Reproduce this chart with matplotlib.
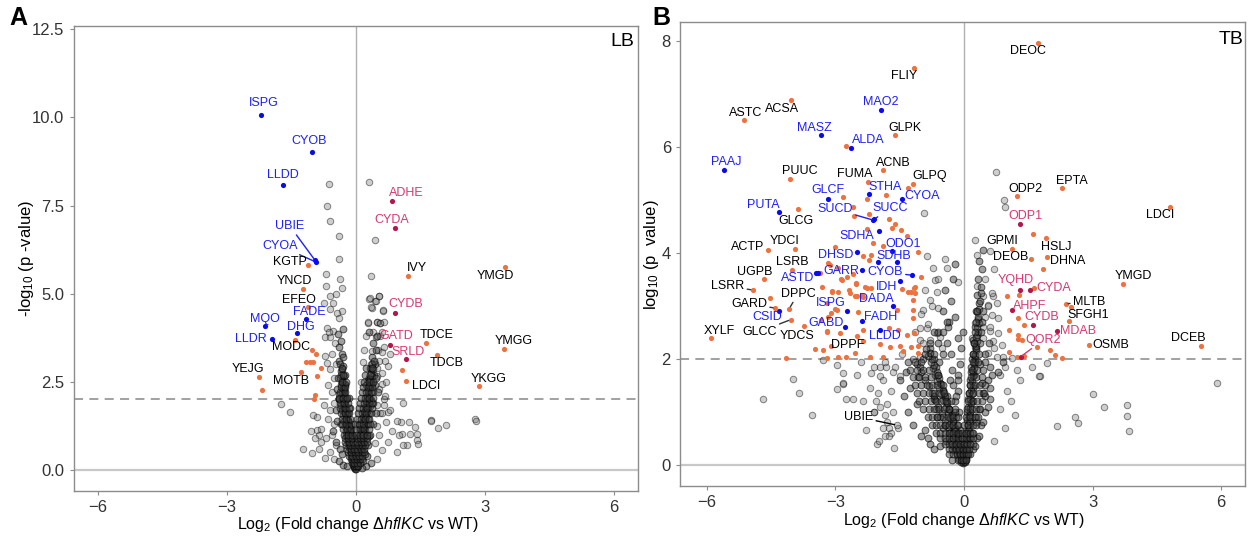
import matplotlib
matplotlib.use("Agg")
import matplotlib.pyplot as plt

plt.rcParams['font.family'] = ['Liberation Sans', 'DejaVu Sans']
plt.rcParams['mathtext.fontset'] = 'custom'
plt.rcParams['mathtext.rm'] = 'Liberation Sans'
plt.rcParams['mathtext.it'] = 'Liberation Sans:italic'

# ---------------- DATA: panel A (LB) ----------------
a_genes = ["ISPG", "CYOB", "LLDD", "UBIE", "CYOA", "KGTP", "YNCD", "EFEO", "FADE", "MQO",
           "DHG", "LLDR", "MODC", "YEJG", "MOTB", "ADHE", "CYDA", "IVY", "YMGD", "CYDB",
           "GATD", "TDCE", "SRLD", "TDCB", "YMGG", "LDCI", "YKGG"]
a_x = [-2.20, -1.02, -1.69, -0.95, -0.93, -1.10, -1.23, -1.12, -1.15, -2.12,
       -1.37, -1.96, -1.42, -2.26, -1.27, 0.84, 0.91, 1.21, 3.47, 0.91,
       0.79, 1.63, 1.18, 1.88, 3.46, 1.17, 2.87]
a_y = [10.08, 9.03, 8.07, 5.95, 5.90, 5.82, 5.14, 4.63, 4.28, 4.08,
       3.89, 3.70, 3.68, 2.63, 2.78, 7.62, 6.85, 5.50, 5.77, 4.46,
       3.54, 3.60, 3.16, 3.27, 3.43, 2.52, 2.37]
a_cat = ["b", "b", "b", "b", "b", "o", "o", "o", "b", "b",
         "b", "b", "o", "o", "o", "r", "r", "o", "o", "r",
         "r", "o", "r", "o", "o", "o", "o"]

a_orange_x = [-2.19, -1.02, -0.92, -1.15, -1.07, -0.99, -0.82, -0.90, -0.96, -0.98, 1.08]
a_orange_y = [2.27, 3.40, 3.30, 3.05, 3.05, 3.05, 2.88, 2.67, 2.13, 2.00, 2.83]

a_grey_x = [-0.63, -0.66, -0.59, -0.39, -0.39, -0.69, -0.37, -0.70, -0.32, -0.61, -0.45, -0.73,
            -0.52, -0.59, -0.33, -0.44, -0.67, -0.52, -0.72, -0.59, -0.71, -0.68,
            0.32, 0.44, 0.36, 0.32, 0.44, 0.55, 0.37, 0.64, 0.50, 0.56, 0.28,
            0.33, 0.46, 0.54, 0.36, 0.63, 0.28, 0.50, 0.57, 0.65, 0.24, 0.41, 0.46, 0.57,
            0.20, 0.37, 0.51, 0.60, 0.18, 0.35, 0.50, 0.68, 0.13, 0.32, 0.49, 0.62, 0.67,
            0.66, 0.57, 0.74, 1.06, 1.23, 1.37, 1.75, 1.92, 2.09, 2.78, 1.27, 1.43, 1.08,
            1.43, 1.19, 1.44, 1.09, 1.76, 2.80,
            -1.75, -1.54, -1.23, -1.02, -0.99, -0.90, -0.85, -0.80,
            -0.50, -0.60, -0.45, -0.70, -0.55, -0.80, -0.50, -0.65, -0.90, -0.60, -0.75, -0.50,
            -0.55, -0.65, -0.50, -0.60, -0.45, -0.55, -0.48, -0.62, -0.40, -0.85, -0.95, -1.05,
            -0.72,
            0.50, 0.60, 0.45, 0.75, 0.55, 0.85, 0.50, 0.70, 0.95, 0.60, 0.80, 0.50,
            0.65, 0.55, 0.70, 0.60, 0.75, 0.55, 0.65, 0.80, 0.60, 0.95, 1.10, 1.00]
a_grey_y = [8.10, 7.48, 7.07, 6.63, 5.97, 5.56, 5.41, 5.22, 5.15, 4.94, 4.98, 4.74,
            4.74, 4.56, 4.50, 4.45, 4.02, 3.95, 3.78, 3.76, 3.24, 3.04,
            8.17, 6.53, 5.51, 4.86, 4.80, 4.93, 4.60, 4.52, 4.20, 4.18, 4.18,
            4.87, 4.80, 4.93, 4.63, 4.55, 4.20, 4.21, 4.16, 4.21, 3.80, 3.92, 3.78, 3.80,
            3.40, 3.37, 3.40, 3.35, 3.05, 3.00, 2.90, 3.10, 2.50, 2.48, 2.65, 2.45, 2.10,
            1.85, 1.60, 1.65, 1.37, 1.37, 1.22, 1.41, 1.18, 1.28, 1.43, 1.03, 1.03, 1.01,
            0.84, 0.71, 0.73, 1.91, 1.39, 1.39,
            1.88, 1.63, 0.60, 0.49, 1.57, 1.13, 1.00, 0.80,
            0.30, 0.50, 0.70, 0.90, 1.00, 1.15, 1.30, 1.45, 1.50, 1.70, 1.85, 1.90,
            2.20, 2.40, 2.60, 2.85, 3.00, 3.30, 3.60, 3.90, 4.30, 0.60, 0.90, 1.10,
            0.35,
            0.30, 0.55, 0.75, 0.80, 1.00, 1.10, 1.25, 1.35, 1.40, 1.60, 1.70, 1.85,
            2.00, 2.30, 2.50, 2.75, 2.95, 3.10, 3.50, 3.30, 3.90, 0.50, 0.70, 1.00]

# dense "V" core (panel A)
a_core_x = [-0.02, -0.04, -0.06, -0.03, -0.08, -0.10, -0.05, -0.12, -0.08, -0.15, -0.10, -0.18,
            -0.12, -0.20, -0.14, -0.22, -0.16, -0.25, -0.18, -0.28, -0.20, -0.30, -0.22, -0.33,
            -0.24, -0.35, -0.26, -0.38, -0.27, -0.40, -0.28, -0.30, -0.25, -0.33, -0.28, -0.35,
            -0.30, -0.38, -0.32, -0.40, -0.35, -0.42, -0.30, -0.40, -0.30, -0.20, -0.07, -0.11,
            -0.15, -0.19, -0.23, -0.13, -0.17, -0.21, -0.09, -0.14, -0.06, -0.16, -0.24, -0.26,
            -0.29, -0.34, -0.36, -0.31,
            0.03, 0.05, 0.08, 0.10, 0.07, 0.13, 0.10, 0.16, 0.12, 0.19, 0.15, 0.22,
            0.17, 0.25, 0.20, 0.28, 0.22, 0.30, 0.25, 0.33, 0.27, 0.36, 0.30, 0.40,
            0.32, 0.38, 0.30, 0.42, 0.35, 0.45, 0.38, 0.48, 0.40, 0.50, 0.30, 0.35,
            0.25, 0.15, 0.06, 0.09, 0.14, 0.18, 0.21, 0.11, 0.16, 0.24, 0.27, 0.08,
            0.13, 0.19, 0.23, 0.29, 0.34, 0.26, 0.31,
            -0.01, -0.03, -0.05, -0.02, -0.07, -0.04, -0.09, -0.06, -0.11, -0.08, -0.13, -0.10,
            -0.15, -0.12, -0.17, -0.14, -0.19, -0.16, -0.21, -0.18, -0.23, -0.20, -0.25, -0.22,
            -0.27, -0.24, -0.29, -0.26, -0.31, -0.28, -0.33, -0.30, -0.35, -0.32, -0.37, -0.34,
            -0.27, -0.23, -0.19, -0.15, -0.11, -0.31, -0.36, -0.41, -0.44, -0.39, -0.47, -0.43,
            -0.52, -0.46,
            0.01, 0.02, 0.04, 0.06, 0.03, 0.08, 0.05, 0.10, 0.07, 0.12, 0.09, 0.14,
            0.11, 0.16, 0.13, 0.18, 0.15, 0.20, 0.17, 0.22, 0.19, 0.24, 0.21, 0.26,
            0.23, 0.28, 0.25, 0.30, 0.27, 0.32, 0.29, 0.34, 0.31, 0.36, 0.33, 0.38,
            0.35, 0.40, 0.37, 0.42, 0.44, 0.47, 0.52, 0.41, 0.46, 0.39, 0.34, 0.28,
            0.22, 0.16,
            -0.05, 0.00, 0.05, -0.09, -0.03, 0.03, 0.09, -0.12, -0.05, 0.02, 0.10, 0.15,
            -0.15, -0.08, 0.00, 0.07, 0.14, -0.18, -0.10, -0.02, 0.06, 0.15, 0.20,
            -0.20, -0.12, -0.04, 0.04, 0.12, 0.20, -0.22, -0.14, -0.05, 0.05, 0.14, 0.22,
            -0.24, -0.15, -0.06, 0.03, 0.12, 0.20, 0.26, -0.26, -0.17, -0.08, 0.02, 0.10,
            0.18, 0.27, -0.27, -0.18, -0.09, 0.00, 0.09, 0.18, 0.27, -0.30, -0.20, -0.10,
            0.00, 0.10, 0.20, 0.30, -0.32, -0.22, -0.12, -0.02, 0.08, 0.18, 0.28, 0.33,
            -0.33, -0.23, -0.13, 0.03, 0.12, 0.22, 0.32, -0.35, -0.25, -0.15, 0.05, 0.15,
            0.25, 0.35, -0.36, -0.26, -0.16, 0.07, 0.17, 0.27, 0.37, -0.37, -0.28, -0.18,
            0.10, 0.20, 0.30, 0.38, -0.38, -0.29, -0.20, 0.12, 0.22, 0.32, 0.40,
            -0.36, -0.26, 0.15, 0.25, 0.35, -0.34, -0.24, 0.18, 0.28, 0.38, -0.32, -0.22,
            0.20, 0.30, 0.40, -0.30, 0.22, 0.34, -0.33, 0.25, 0.37]
a_core_y = [0.05, 0.12, 0.20, 0.25, 0.30, 0.40, 0.45, 0.50, 0.60, 0.65, 0.75, 0.80,
            0.90, 0.95, 1.05, 1.10, 1.20, 1.25, 1.35, 1.40, 1.50, 1.55, 1.65, 1.70,
            1.80, 1.85, 1.95, 2.00, 2.10, 2.15, 2.25, 2.35, 2.45, 2.55, 2.65, 2.80,
            2.95, 3.10, 3.30, 3.50, 3.65, 3.85, 4.00, 0.25, 0.15, 0.10, 0.35, 0.55,
            0.70, 0.85, 1.00, 1.15, 1.40, 1.60, 0.80, 1.75, 0.95, 2.05, 2.40, 2.70,
            3.20, 1.30, 0.60, 0.45,
            0.08, 0.18, 0.28, 0.38, 0.50, 0.55, 0.68, 0.75, 0.85, 0.92, 1.02, 1.10,
            1.20, 1.28, 1.40, 1.45, 1.55, 1.62, 1.72, 1.80, 1.90, 1.98, 2.10, 2.20,
            2.30, 2.45, 2.60, 2.70, 2.85, 3.00, 3.20, 3.40, 3.60, 3.80, 3.90, 0.20,
            0.12, 0.05, 0.30, 0.45, 0.62, 0.80, 0.98, 1.30, 1.50, 1.75, 2.05, 0.65,
            1.15, 1.65, 2.40, 2.55, 2.90, 0.40, 0.95,
            0.02, 0.08, 0.15, 0.18, 0.22, 0.33, 0.35, 0.48, 0.52, 0.62, 0.70, 0.82,
            0.88, 0.97, 1.02, 1.12, 1.18, 1.28, 1.32, 1.42, 1.48, 1.58, 1.60, 1.72,
            1.75, 1.88, 1.90, 2.02, 2.05, 2.18, 2.20, 2.32, 2.40, 2.50, 2.60, 2.70,
            2.30, 2.00, 1.60, 1.25, 0.90, 2.85, 3.00, 2.60, 2.30, 2.00, 1.70, 1.40,
            1.10, 0.80,
            0.02, 0.10, 0.14, 0.24, 0.32, 0.36, 0.44, 0.50, 0.58, 0.64, 0.72, 0.78,
            0.88, 0.95, 1.05, 1.08, 1.18, 1.22, 1.34, 1.38, 1.48, 1.52, 1.65, 1.68,
            1.78, 1.82, 1.95, 2.00, 2.08, 2.15, 2.25, 2.35, 2.42, 2.50, 2.58, 2.65,
            2.75, 2.85, 3.00, 3.10, 2.40, 2.60, 2.20, 1.90, 1.60, 1.30, 1.00, 0.70,
            0.45, 0.25,
            0.10, 0.10, 0.10, 0.20, 0.20, 0.20, 0.20, 0.30, 0.30, 0.30, 0.30, 0.30,
            0.40, 0.40, 0.40, 0.40, 0.40, 0.50, 0.50, 0.50, 0.50, 0.50, 0.50,
            0.60, 0.60, 0.60, 0.60, 0.60, 0.60, 0.70, 0.70, 0.70, 0.70, 0.70, 0.70,
            0.80, 0.80, 0.80, 0.80, 0.80, 0.80, 0.80, 0.90, 0.90, 0.90, 0.90, 0.90,
            0.90, 0.90, 1.00, 1.00, 1.00, 1.00, 1.00, 1.00, 1.00, 1.15, 1.15, 1.15,
            1.15, 1.15, 1.15, 1.15, 1.30, 1.30, 1.30, 1.30, 1.30, 1.30, 1.30, 1.30,
            1.45, 1.45, 1.45, 1.45, 1.45, 1.45, 1.45, 1.60, 1.60, 1.60, 1.60, 1.60,
            1.60, 1.60, 1.75, 1.75, 1.75, 1.75, 1.75, 1.75, 1.75, 1.90, 1.90, 1.90,
            1.90, 1.90, 1.90, 1.90, 2.05, 2.05, 2.05, 2.05, 2.05, 2.05, 2.05,
            2.20, 2.20, 2.20, 2.20, 2.20, 2.35, 2.35, 2.35, 2.35, 2.35, 2.50, 2.50,
            2.50, 2.50, 2.50, 2.70, 2.70, 2.70, 2.90, 2.90, 2.90]

# ---------------- DATA: panel B (TB) ----------------
b_genes = ["ACSA", "ASTC", "MASZ", "PAAJ", "PUUC", "GLCF", "PUTA", "GLCG", "FLIY", "MAO2",
           "GLPK", "ALDA", "ACNB", "FUMA", "GLPQ", "STHA", "CYOA", "SUCD", "SUCC", "SDHA",
           "ODO1", "DHSD", "SDHB", "GARR", "ASTD", "CYOB", "IDH", "ISPG", "DADA", "CSID",
           "GARD", "DPPC", "FADH", "GABD", "LLDD", "DPPF", "ACTP", "YDCI", "LSRB", "UGPB",
           "LSRR", "GLCC", "YDCS", "XYLF", "UBIE", "DEOC", "EPTA", "ODP2", "ODP1", "GPMI",
           "HSLJ", "DEOB", "DHNA", "YQHD", "CYDA", "AHPF", "MLTB", "SFGH1", "CYDB", "MDAB",
           "QOR2", "OSMB", "LDCI", "YMGD", "DCEB"]
b_x = [-4.04, -5.13, -3.35, -5.61, -4.06, -3.18, -4.33, -3.87, -1.17, -1.94,
       -1.60, -2.63, -1.89, -2.25, -1.19, -2.22, -1.44, -2.12, -2.09, -1.98,
       -1.67, -2.50, -1.56, -2.39, -3.46, -1.21, -1.49, -2.74, -1.65, -4.32,
       -4.41, -4.08, -2.39, -2.78, -1.95, -2.50, -4.58, -3.95, -4.02, -4.68,
       -4.93, -4.05, -3.73, -5.91, -1.57, 1.72, 2.28, 1.23, 1.30, 1.13,
       1.91, 1.57, 1.93, 1.30, 1.54, 1.12, 2.38, 2.45, 1.62, 2.17,
       1.32, 2.91, 4.80, 3.71, 5.53]
b_y = [6.89, 6.51, 6.22, 5.57, 5.39, 5.02, 4.77, 4.83, 7.50, 6.70,
       6.23, 5.98, 5.57, 5.33, 5.30, 5.11, 5.02, 4.62, 4.64, 4.41,
       4.03, 4.01, 3.82, 3.67, 3.62, 3.58, 3.48, 2.91, 2.99, 2.91,
       2.96, 2.95, 2.72, 2.61, 2.55, 2.43, 4.06, 4.07, 3.67, 3.50,
       3.30, 2.74, 2.62, 2.39, 0.75, 7.97, 5.23, 5.08, 4.54, 4.08,
       4.28, 3.89, 3.92, 3.31, 3.30, 2.93, 3.04, 2.71, 2.64, 2.52,
       2.04, 2.27, 4.87, 3.42, 2.25]
b_cat = ["o", "o", "b", "b", "o", "b", "b", "o", "o", "b",
         "o", "b", "o", "o", "o", "b", "b", "b", "b", "b",
         "b", "b", "b", "b", "b", "b", "b", "b", "b", "b",
         "o", "o", "b", "b", "b", "o", "o", "o", "o", "o",
         "o", "o", "o", "o", "g", "o", "o", "o", "r", "o",
         "o", "o", "o", "r", "r", "r", "o", "o", "r", "r",
         "r", "o", "o", "o", "o"]

b_blue_x = [-2.01, -3.42]
b_blue_y = [3.82, 3.63]

b_orange_x = [-2.76, -2.83, -2.27, -1.83, -1.31, -2.58, -2.21, -2.56, -1.74, -1.60, -1.69, -2.27,
              -2.13, -1.88, -1.46, -1.33, -1.07, -3.01, -2.35, -2.17, -2.22, -3.13, -2.93, -3.36,
              -2.86, -2.74, -2.58, -1.01, -3.32, -3.08, -2.93, -2.69, -2.51, -2.31, -2.18, -1.44,
              -1.24, -1.16, -1.15, -2.67, -2.50, -2.39, -1.57, -4.54, -3.17, -2.84, -2.52, -2.27,
              -3.07, -2.54, -2.36, -3.20, -2.97, -2.47, -3.17, -3.20, -2.90, -2.35, -3.19, -3.10,
              -3.48, -3.30, -3.19, -4.15, -3.10, -3.01, -3.33, -2.93, -2.76, -2.54, -2.19, -1.90,
              -2.35, -1.96, -1.73, -1.49, -1.42, -1.24, -1.07, -1.07, -1.34, -1.16, -1.74, -1.53,
              -1.18, -1.18, -1.18, -1.30, -1.14,
              1.60, 1.84, 1.01, 1.28, 1.63, 1.25, 1.39, 1.04, 1.27, 1.27, 1.35, 1.71,
              2.01, 2.13, 2.28, 1.04, 1.23, 1.40, 2.49]
b_orange_y = [6.02, 5.06, 5.02, 5.09, 5.23, 4.87, 4.74, 4.70, 4.65, 4.55, 4.48, 4.45,
              4.18, 4.14, 4.43, 4.32, 4.01, 4.12, 3.95, 3.97, 3.87, 3.77, 3.71, 3.62,
              3.51, 3.55, 3.60, 3.55, 3.36, 3.29, 3.26, 3.30, 3.42, 3.35, 3.34, 3.32,
              3.26, 3.33, 3.24, 3.24, 3.18, 3.21, 2.92, 3.15, 3.81, 3.49, 3.43, 3.33,
              3.27, 3.19, 3.16, 3.05, 2.92, 2.89, 2.80, 2.52, 2.48, 2.55, 2.50, 2.25,
              2.18, 2.17, 2.01, 2.01, 2.87, 2.94, 2.74, 2.04, 2.04, 2.12, 2.04, 2.04,
              2.33, 2.28, 2.23, 2.25, 2.14, 2.23, 2.25, 2.12, 2.45, 2.48, 2.58, 2.55,
              2.77, 2.92, 3.11, 3.27, 3.35,
              4.35, 3.70, 3.19, 3.21, 3.33, 2.77, 2.64, 2.55, 2.45, 2.37, 2.35, 2.23,
              2.17, 2.08, 2.01, 2.13, 2.03, 2.06, 2.98]

b_grey_x = [-0.93, -0.87, -0.72, -0.44, -0.40, -0.68, -0.13, -0.64, -0.79, -0.60, -0.95, -1.03,
            -0.87, -0.64, -0.56, -0.79, -1.03, -0.52, -0.79, -1.03,
            -4.70, -3.85, -3.56, -3.99, -2.96, -2.83, -2.76, -2.58, -2.29, -2.03, -1.98, -1.63,
            -2.10, -2.05, -1.95, -1.85, -1.80, -1.75, -1.70, -1.85, -1.90,
            -3.28, -2.97, -2.82, -2.82, -2.16, -1.96, -1.81, -1.96, -1.65, -1.49,
            0.75, 0.95, 0.94, 0.25, 0.31, 0.61, 0.71, 0.30, 0.45, 0.68, 0.76, 0.57, 0.30, 0.65,
            0.80, 0.26, 0.45, 0.61, 0.80, 0.18, 0.68, 0.88, 0.26, 0.57, 0.76, 0.92, 1.11, 0.96,
            1.23, 1.58, 1.77, 0.84, 3.00, 3.28, 3.80, 3.80, 3.86, 2.59, 2.65, 2.18, 1.93, 1.74,
            5.90,
            -1.60, -1.20, -1.45, -0.95, -1.15, -0.85, -1.00, -0.75, -0.90, -0.60, -1.70, -1.80,
            -1.90, -2.00, -1.65, -1.55, -1.75, -2.10, -2.20, -2.35, -2.50, -2.10, -1.85, -2.40,
            0.70, 0.45, 0.60, 0.50, 0.55, 0.65, 0.50, 1.00, 1.10, 0.85, 1.20, 0.95, 1.30, 0.70]
b_grey_y = [4.75, 3.94, 3.71, 3.88, 3.71, 3.49, 3.46, 3.27, 3.11, 2.96, 2.92, 2.58,
            2.58, 2.48, 2.42, 2.36, 2.36, 2.20, 2.11, 2.04,
            1.24, 1.35, 0.95, 1.62, 1.44, 1.53, 1.25, 1.25, 0.66, 0.40, 0.45, 0.31,
            1.00, 1.20, 1.10, 0.95, 0.80, 0.70, 0.60, 0.55, 0.70,
            1.98, 1.89, 1.73, 1.54, 1.73, 1.85, 1.85, 1.67, 1.75, 1.67,
            5.52, 4.87, 5.00, 4.25, 3.97, 4.04, 3.69, 3.38, 3.18, 3.19, 3.06, 3.02, 2.89, 2.83,
            2.77, 2.67, 2.61, 2.52, 2.48, 2.39, 2.33, 2.26, 2.23, 2.11, 2.04, 2.04, 2.01, 1.85,
            1.79, 1.85, 1.67, 1.70, 1.34, 1.10, 1.13, 0.93, 0.64, 0.91, 0.79, 0.74, 1.92, 1.68,
            1.55,
            1.85, 2.00, 2.10, 2.30, 2.50, 2.65, 2.85, 3.00, 3.30, 3.50, 1.40, 1.15,
            1.60, 1.35, 1.00, 0.70, 0.55, 1.00, 1.45, 1.20, 1.70, 1.85, 1.95, 1.95,
            2.20, 2.40, 2.60, 2.80, 3.00, 3.25, 3.50, 1.40, 1.20, 1.05, 0.95, 0.70, 1.60, 0.45]

# dense "V" core (panel B)
b_core_x = [-0.03, -0.06, -0.10, -0.05, -0.15, -0.20, -0.10, -0.25, -0.15, -0.32, -0.20, -0.38,
            -0.25, -0.45, -0.30, -0.52, -0.35, -0.60, -0.40, -0.68, -0.45, -0.75, -0.50, -0.82,
            -0.55, -0.90, -0.60, -1.00, -0.65, -1.10, -0.70, -0.50, -0.80, -0.40, -0.60, -0.35,
            -0.50, -0.30, -0.45, -0.25, -0.20, -0.12, -0.18, -0.22, -0.25, -0.28, -0.30, -0.15,
            -0.20, -0.80, -1.00, -0.70, -1.20, -0.90, -1.30, -1.10, -1.40, -1.25, -1.50, -1.35,
            -0.08, -0.12, -0.16, -0.07, -0.11, -0.14, -0.04, -0.09, -0.13, -0.35, -0.42, -0.55,
            -0.62, -0.48, -0.70, -0.33, -0.27, -0.38, -0.58, -0.85,
            0.03, 0.06, 0.04, 0.09, 0.06, 0.12, 0.08, 0.15, 0.10, 0.18, 0.12, 0.20,
            0.15, 0.23, 0.17, 0.26, 0.20, 0.28, 0.22, 0.30, 0.25, 0.33, 0.27, 0.36,
            0.30, 0.40, 0.33, 0.42, 0.35, 0.45, 0.20, 0.30, 0.40, 0.50, 0.35, 0.60,
            0.45, 0.80, 0.55, 0.60, 0.90,
            0.05, 0.08, 0.11, 0.14, 0.07, 0.10, 0.13, 0.16, 0.19, 0.24, 0.21, 0.27,
            -0.02, -0.05, -0.08, -0.04, -0.12, -0.09, -0.16, -0.13, -0.20, -0.17, -0.24, -0.21,
            -0.28, -0.25, -0.33, -0.29, -0.38, -0.34, -0.43, -0.39, -0.48, -0.44, -0.53, -0.49,
            -0.58, -0.54, -0.63, -0.59, -0.68, -0.64, -0.73, -0.69, -0.78, -0.74, -0.83, -0.79,
            -0.88, -0.95, -1.02, -1.08, -0.30, -0.25, -0.20, -0.16, -0.12, -0.08, -0.35, -0.45,
            -0.55, -0.65, -0.40, -0.50, -0.60, -0.70, -0.22, -0.18, -0.14, -0.10, -0.06, -0.03,
            0.02, 0.04, 0.03, 0.06, 0.05, 0.08, 0.07, 0.10, 0.09, 0.12, 0.11, 0.14,
            0.13, 0.16, 0.15, 0.18, 0.17, 0.20, 0.19, 0.22, 0.21, 0.24, 0.23, 0.26,
            0.25, 0.28, 0.27, 0.30, 0.29, 0.32, 0.31, 0.34, 0.33, 0.36, 0.38, 0.40,
            0.15, 0.25, 0.35, 0.45, 0.55, 0.50, 0.42, 0.60, 0.65, 0.38, 0.48, 0.58,
            0.28, 0.18,
            -0.15, -0.08, -0.02, 0.04, -0.25, -0.17, -0.09, -0.02, 0.05, 0.10,
            -0.35, -0.27, -0.19, -0.11, -0.03, 0.04, 0.12, -0.45, -0.36, -0.27, -0.18, -0.09,
            0.00, 0.08, 0.15, -0.55, -0.45, -0.35, -0.25, -0.15, -0.05, 0.05, 0.13, 0.20,
            -0.65, -0.55, -0.45, -0.35, -0.25, -0.15, -0.05, 0.05, 0.15, 0.22,
            -0.75, -0.65, -0.55, -0.45, -0.35, -0.25, -0.15, 0.00, 0.10, 0.20, 0.28,
            -0.85, -0.75, -0.62, -0.50, -0.38, -0.26, -0.14, 0.05, 0.15, 0.25, 0.33,
            -0.95, -0.82, -0.70, -0.58, -0.46, -0.34, -0.22, 0.08, 0.18, 0.28, 0.38,
            -1.05, -0.90, -0.78, -0.66, -0.54, -0.42, -0.30, 0.10, 0.20, 0.30, 0.42,
            -1.10, -0.95, -0.82, -0.70, -0.58, -0.46, 0.12, 0.22, 0.34, 0.46,
            -1.15, -1.00, -0.86, -0.74, -0.62, 0.14, 0.26, 0.38, 0.50,
            -1.20, -1.05, -0.90, -0.78, 0.16, 0.28, 0.42, -1.25, -1.10, -0.95, -0.82, 0.18,
            0.30, 0.45, -1.30, -1.15, -1.00, 0.20, 0.33, 0.48, -0.90, -0.70, 0.22, 0.35,
            -0.80, -0.60, 0.24, 0.38, -0.70, -0.50, 0.26, 0.40, 0.28, 0.42, -0.40, 0.30, 0.44]
b_core_y = [0.05, 0.12, 0.20, 0.25, 0.30, 0.38, 0.42, 0.48, 0.55, 0.60, 0.68, 0.72,
            0.80, 0.85, 0.92, 0.98, 1.05, 1.10, 1.18, 1.22, 1.30, 1.35, 1.42, 1.48,
            1.55, 1.60, 1.70, 1.75, 1.85, 1.90, 2.00, 2.10, 2.20, 2.30, 2.50, 2.70,
            2.90, 3.10, 3.30, 3.50, 3.80, 0.60, 0.90, 1.20, 1.50, 1.80, 2.10, 2.40,
            2.80, 0.40, 0.55, 0.30, 0.75, 0.65, 1.00, 1.15, 1.30, 1.45, 1.60, 1.75,
            0.15, 0.35, 0.75, 0.50, 1.00, 1.40, 0.28, 0.65, 1.70, 0.20, 0.45, 0.35,
            0.90, 0.70, 1.25, 1.60, 0.10, 2.60, 1.95, 0.50,
            0.08, 0.20, 0.35, 0.45, 0.60, 0.70, 0.85, 0.95, 1.10, 1.20, 1.35, 1.45,
            1.60, 1.70, 1.85, 1.95, 2.10, 2.20, 2.35, 2.45, 2.60, 2.75, 2.90, 3.05,
            3.20, 3.35, 3.50, 3.70, 3.85, 4.05, 0.30, 0.50, 0.75, 1.00, 1.05, 1.25,
            1.35, 1.75, 1.60, 1.85, 1.95,
            0.15, 0.30, 0.50, 0.80, 1.00, 1.25, 1.50, 1.75, 2.00, 2.30, 0.40, 0.90,
            0.03, 0.10, 0.16, 0.22, 0.27, 0.34, 0.40, 0.46, 0.52, 0.58, 0.63, 0.70,
            0.75, 0.82, 0.88, 0.94, 0.99, 1.05, 1.10, 1.16, 1.22, 1.28, 1.33, 1.40,
            1.45, 1.52, 1.58, 1.64, 1.70, 1.76, 1.82, 1.88, 1.94, 2.00, 2.06, 2.12,
            2.18, 2.00, 1.85, 1.65, 0.45, 0.35, 0.28, 0.20, 0.12, 0.06, 0.60, 0.75,
            0.90, 1.05, 1.30, 1.50, 1.70, 1.30, 1.00, 1.30, 1.60, 1.90, 2.20, 2.50,
            0.05, 0.12, 0.25, 0.30, 0.42, 0.48, 0.58, 0.66, 0.75, 0.82, 0.92, 1.00,
            1.08, 1.16, 1.25, 1.33, 1.42, 1.50, 1.58, 1.67, 1.75, 1.83, 1.92, 2.00,
            2.08, 2.17, 2.25, 2.33, 2.42, 2.50, 2.58, 2.67, 2.80, 2.95, 3.10, 3.25,
            0.20, 0.35, 0.55, 0.80, 1.10, 1.30, 1.55, 1.45, 1.70, 1.90, 2.10, 2.30,
            0.80, 0.60,
            0.10, 0.10, 0.10, 0.10, 0.20, 0.20, 0.20, 0.20, 0.20, 0.20,
            0.30, 0.30, 0.30, 0.30, 0.30, 0.30, 0.30, 0.40, 0.40, 0.40, 0.40, 0.40,
            0.40, 0.40, 0.40, 0.50, 0.50, 0.50, 0.50, 0.50, 0.50, 0.50, 0.50, 0.50,
            0.60, 0.60, 0.60, 0.60, 0.60, 0.60, 0.60, 0.60, 0.60, 0.60,
            0.75, 0.75, 0.75, 0.75, 0.75, 0.75, 0.75, 0.75, 0.75, 0.75, 0.75,
            0.90, 0.90, 0.90, 0.90, 0.90, 0.90, 0.90, 0.90, 0.90, 0.90, 0.90,
            1.05, 1.05, 1.05, 1.05, 1.05, 1.05, 1.05, 1.05, 1.05, 1.05, 1.05,
            1.20, 1.20, 1.20, 1.20, 1.20, 1.20, 1.20, 1.20, 1.20, 1.20, 1.20,
            1.35, 1.35, 1.35, 1.35, 1.35, 1.35, 1.35, 1.35, 1.35, 1.35,
            1.50, 1.50, 1.50, 1.50, 1.50, 1.50, 1.50, 1.50, 1.50,
            1.65, 1.65, 1.65, 1.65, 1.65, 1.65, 1.65, 1.80, 1.80, 1.80, 1.80, 1.80,
            1.80, 1.80, 1.95, 1.95, 1.95, 1.95, 1.95, 1.95, 2.10, 2.10, 2.10, 2.10,
            2.30, 2.30, 2.30, 2.30, 2.50, 2.50, 2.50, 2.50, 2.70, 2.70, 2.70, 2.90, 2.90]

# ---------------- LAYOUT (label offsets in pixels, leader lines) ----------------
a_offsets = {"ISPG": (3, 12), "CYOB": (-3, 11), "LLDD": (0, 10), "UBIE": (-25, 34),
             "CYOA": (-36, 16), "KGTP": (-19, 3), "YNCD": (-9, 8), "EFEO": (-9, 7),
             "FADE": (3, 7), "MQO": (0, 7), "DHG": (4, 6), "LLDR": (-21, 0),
             "MODC": (-4, -7), "YEJG": (-11, 8), "MOTB": (-10, -9), "ADHE": (14, 8),
             "CYDA": (-3, 8), "IVY": (9, 8), "YMGD": (-9, -9), "CYDB": (11, 9),
             "GATD": (7, 9), "TDCE": (11, 8), "SRLD": (2, 7), "TDCB": (10, -8),
             "YMGG": (9, 8), "LDCI": (20, -5), "YKGG": (10, 7)}
a_lines = {"UBIE", "CYOA"}
b_offsets = {"ACSA": (-9, -9), "ASTC": (1, 7), "MASZ": (-6, 7), "PAAJ": (3, 8), "PUUC": (10, 8),
             "GLCF": (0, 9), "PUTA": (-15, 7), "GLCG": (-2, -12), "FLIY": (-10, -8),
             "MAO2": (0, 8), "GLPK": (9, 7), "ALDA": (17, 8), "ACNB": (10, 7), "FUMA": (-13, 8),
             "GLPQ": (17, 8), "STHA": (16, 7), "CYOA": (20, 3), "SUCD": (-38, 11),
             "SUCC": (16, 11), "SDHA": (-22, -5), "ODO1": (11, 7), "DHSD": (-21, -3),
             "SDHB": (-3, 6), "GARR": (-20, -1), "ASTD": (-18, -5), "CYOB": (-27, 3),
             "IDH": (-14, -6), "ISPG": (-16, 8), "DADA": (-17, 7), "CSID": (-12, -6),
             "GARD": (-26, 4), "DPPC": (9, 15), "FADH": (19, 4), "GABD": (-19, 4),
             "LLDD": (4, -6), "DPPF": (-9, -9), "ACTP": (-20, 3), "YDCI": (-10, 8),
             "LSRB": (1, 8), "UGPB": (-9, 7), "LSRR": (-25, 4), "GLCC": (-31, -12),
             "YDCS": (-7, -10), "XYLF": (9, 7), "UBIE": (-38, 8), "DEOC": (-10, -8),
             "EPTA": (10, 7), "ODP2": (9, 7), "ODP1": (6, 8), "GPMI": (-10, 8),
             "HSLJ": (10, -9), "DEOB": (-21, 2), "DHNA": (21, -4), "YQHD": (-4, 10),
             "CYDA": (24, 2), "AHPF": (18, 4), "MLTB": (23, 2), "SFGH1": (19, 6),
             "CYDB": (8, 8), "MDAB": (21, 0), "QOR2": (23, 17), "OSMB": (22, 0),
             "LDCI": (-9, -8), "YMGD": (10, 8), "DCEB": (-13, 8)}
b_lines = {"SUCD", "SUCC", "CYOB", "GARD", "DPPC", "LSRR", "GLCC", "UBIE", "MLTB", "QOR2"}

PT_COL = {"o": "#EC7240", "b": "#0A0AF0", "r": "#B3174A"}
TXT_COL = {"o": "black", "b": "#1E1EFF", "r": "#D8386E", "g": "black"}
GREY_FACE = (0.45, 0.45, 0.45, 0.35)
GREY_EDGE = (0, 0, 0, 0.45)
CORE_FACE = (0.25, 0.25, 0.25, 0.5)
CORE_EDGE = (0, 0, 0, 0.6)

fig = plt.figure(figsize=(12.5, 5.4), dpi=100)


def draw_panel(ax, genes, xs, ys, cats, offsets, lines, orange_x, orange_y, grey_x, grey_y,
               core_x, core_y, blue_x=(), blue_y=()):
    ax.axhline(0, color="#c8c8c8", lw=1.6, zorder=1)
    ax.axvline(0, color="#b0b0b0", lw=1.0, zorder=1)
    ax.axhline(2, color="#9a9a9a", lw=1.3, ls=(0, (5, 3.5)), zorder=1)
    ax.scatter(grey_x, grey_y, s=22, facecolors=GREY_FACE, edgecolors=GREY_EDGE,
               linewidths=0.7, zorder=2)
    ax.scatter(core_x, core_y, s=24, facecolors=CORE_FACE, edgecolors=CORE_EDGE,
               linewidths=0.7, zorder=2)
    ax.scatter(orange_x, orange_y, s=14, color=PT_COL["o"], linewidths=0, zorder=3)
    if len(blue_x):
        ax.scatter(blue_x, blue_y, s=14, color=PT_COL["b"], linewidths=0, zorder=3)
    for g, x, y, c in zip(genes, xs, ys, cats):
        if c == "g":
            ax.scatter([x], [y], s=22, facecolors=GREY_FACE, edgecolors=GREY_EDGE,
                       linewidths=0.7, zorder=2)
        else:
            ax.scatter([x], [y], s=14, color=PT_COL[c], linewidths=0, zorder=4)
        dx, dy = offsets[g]
        tc = TXT_COL[c]
        kw = {}
        if g in lines:
            kw["arrowprops"] = dict(arrowstyle="-", color=tc if c != "o" else "#333333",
                                    lw=1.0, shrinkA=0, shrinkB=1.5)
        ax.annotate(g, (x, y), xytext=(dx, dy), textcoords="offset pixels",
                    ha="center", va="center", fontsize=9.0, color=tc, zorder=5, **kw)
    for s in ax.spines.values():
        s.set_color("#8c8c8c")
        s.set_linewidth(1.0)
    ax.tick_params(axis="both", colors="#8c8c8c", labelcolor="#333333", labelsize=12,
                   length=3, width=0.8)
    ax.set_xticks([-6, -3, 0, 3, 6])


axA = fig.add_axes([0.0588, 0.0907, 0.4516, 0.8615])
draw_panel(axA, a_genes, a_x, a_y, a_cat, a_offsets, a_lines, a_orange_x, a_orange_y,
           a_grey_x, a_grey_y, a_core_x, a_core_y)
axA.set_xlim(-6.57, 6.57)
axA.set_ylim(-0.6, 12.6)
axA.set_yticks([0, 2.5, 5, 7.5, 10, 12.5])
axA.set_yticklabels(["0.0", "2.5", "5.0", "7.5", "10.0", "12.5"])

axB = fig.add_axes([0.544, 0.0999, 0.452, 0.8594])
draw_panel(axB, b_genes, b_x, b_y, b_cat, b_offsets, b_lines, b_orange_x, b_orange_y,
           b_grey_x, b_grey_y, b_core_x, b_core_y, b_blue_x, b_blue_y)
axB.set_xlim(-6.63, 6.56)
axB.set_ylim(-0.4, 8.36)
axB.set_yticks([0, 2, 4, 6, 8])

W, H = 1250.0, 540.0
xlab = r"Log$_2$ (Fold change $\Delta\mathit{hflKC}$ vs WT)"
fig.text(358 / W, 1 - 524 / H, xlab, ha="center", va="center", fontsize=11.5)
fig.text(964 / W, 1 - 521 / H, xlab, ha="center", va="center", fontsize=11.5)
fig.text(26 / W, 1 - 258 / H, r"-log$_{10}$ (p -value)", rotation=90, ha="center",
         va="center", fontsize=12)
fig.text(652 / W, 1 - 255 / H, r"log$_{10}$ (p  value)", rotation=90, ha="center",
         va="center", fontsize=12)
fig.text(18 / W, 1 - 18 / H, "A", ha="center", va="center", fontsize=18, fontweight="bold")
fig.text(661 / W, 1 - 18 / H, "B", ha="center", va="center", fontsize=18, fontweight="bold")
fig.text(622 / W, 1 - 42 / H, "LB", ha="center", va="center", fontsize=14)
fig.text(1231 / W, 1 - 40 / H, "TB", ha="center", va="center", fontsize=14)

fig.savefig("out.png", dpi=100)
